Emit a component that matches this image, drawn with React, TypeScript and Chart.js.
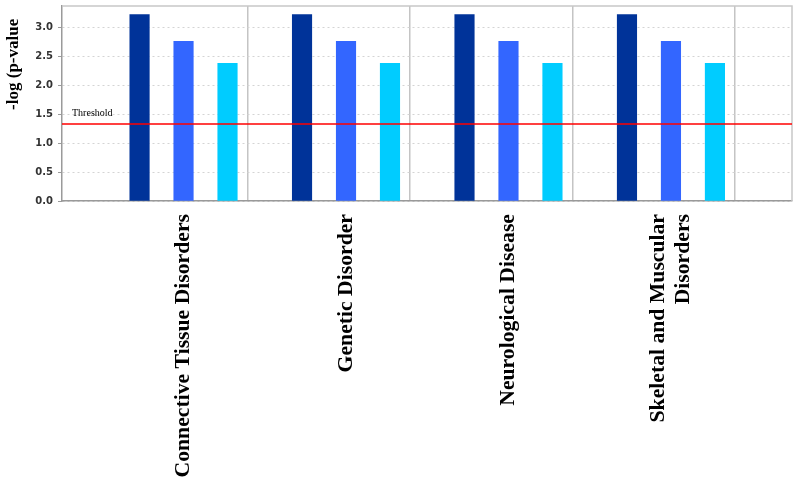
import React, { useEffect, useRef } from "react";
import { Chart, registerables } from "chart.js";

Chart.register(...registerables);

const CATEGORIES: (string | string[])[] = [
  "Connective Tissue Disorders",
  "Genetic Disorder",
  "Neurological Disease",
  ["Skeletal and Muscular", "Disorders"],
];
const SERIES_A = [3.22, 3.22, 3.22, 3.22];
const SERIES_B = [2.76, 2.76, 2.76, 2.76];
const SERIES_C = [2.38, 2.38, 2.38, 2.38];
const THRESHOLD = 1.33;
const Y_TICKS = [0, 0.5, 1.0, 1.5, 2.0, 2.5, 3.0];
const Y_MAX = 3.37;
const X_MIN = -0.748;
const X_MAX = 3.745;
const BOUNDARY_SHIFT = 0.395;
const LINE_NUDGE = 0.08; // per extra label line, in category units

const COLORS = ["#003399", "#3366ff", "#00ccff"];

const framePlugin = {
  id: "frame",
  beforeDatasetsDraw(chart: any) {
    const { ctx, chartArea } = chart;
    ctx.save();
    ctx.strokeStyle = "#c8c8c8";
    ctx.lineWidth = 1.5;
    ctx.beginPath();
    ctx.moveTo(chartArea.left, chartArea.top);
    ctx.lineTo(chartArea.right, chartArea.top);
    ctx.lineTo(chartArea.right, chartArea.bottom);
    ctx.stroke();
    ctx.restore();
  },
  afterDatasetsDraw(chart: any) {
    const { ctx, chartArea, scales } = chart;
    const y = scales.y.getPixelForValue(THRESHOLD);
    ctx.save();
    ctx.font = "10px 'Liberation Serif'";
    ctx.fillStyle = "#000";
    ctx.textBaseline = "middle";
    ctx.textAlign = "left";
    ctx.fillText("Threshold", chartArea.left + 10, y - 11);
    ctx.restore();
  },
};

export default function App() {
  const ref = useRef<HTMLCanvasElement | null>(null);
  useEffect(() => {
    if (!ref.current) return;
    const toXY = (arr: number[]) => arr.map((v, i) => ({ x: i, y: v }));
    const chart = new Chart(ref.current, {
      type: "bar",
      data: {
        datasets: [
          {
            type: "line",
            label: "Threshold",
            data: [
              { x: X_MIN, y: THRESHOLD },
              { x: X_MAX, y: THRESHOLD },
            ],
            borderColor: "#ff0000",
            borderWidth: 1.5,
            pointRadius: 0,
            order: -1,
          } as any,
          { label: "A", data: toXY(SERIES_A), backgroundColor: COLORS[0] },
          { label: "B", data: toXY(SERIES_B), backgroundColor: COLORS[1] },
          { label: "C", data: toXY(SERIES_C), backgroundColor: COLORS[2] },
        ],
      },
      options: {
        animation: false,
        responsive: false,
        layout: { padding: { left: 0, top: 6, right: 8, bottom: 0 } },
        plugins: { legend: { display: false }, tooltip: { enabled: false } },
        datasets: {
          bar: {
            barThickness: "flex",
            categoryPercentage: 0.812,
            barPercentage: 0.443,
            borderWidth: 0,
          },
        },
        scales: {
          x: {
            type: "linear",
            min: X_MIN,
            max: X_MAX,
            offset: false,
            afterBuildTicks: (scale: any) => {
              const ticks: any[] = [];
              CATEGORIES.forEach((c, i) => {
                const extra = Array.isArray(c) ? c.length - 1 : 0;
                ticks.push({ value: i - extra * LINE_NUDGE });
                ticks.push({ value: i + BOUNDARY_SHIFT });
              });
              scale.ticks = ticks;
            },
            afterFit: (scale: any) => {
              scale.height = 285;
              scale.paddingLeft = 0;
              scale.paddingRight = 0;
            },
            grid: {
              offset: false,
              drawTicks: false,
              color: (ctx: any) => (ctx.index % 2 === 0 ? "rgba(0,0,0,0)" : "#c4c4c4"),
              lineWidth: 1.5,
            },
            border: { color: "#9a9a9a", width: 1.5 },
            ticks: {
              autoSkip: false,
              minRotation: 90,
              maxRotation: 90,
              padding: 13,
              color: "#000",
              font: { family: "'Liberation Serif'", size: 21.7, weight: "bold", lineHeight: 1.15 },
              callback: (_value: any, index: number) =>
                index % 2 === 0 ? (CATEGORIES[index / 2] as any) : "",
            },
          },
          y: {
            min: 0,
            max: Y_MAX,
            afterBuildTicks: (scale: any) => {
              scale.ticks = Y_TICKS.map((v) => ({ value: v }));
            },
            afterFit: (scale: any) => {
              scale.width = 62;
              scale.paddingTop = 0;
              scale.paddingBottom = 0;
            },
            grid: {
              color: "#d4d4d4",
              tickColor: "#9a9a9a",
              tickLength: 4,
              lineWidth: 1,
            },
            border: { color: "#9a9a9a", width: 1.5, dash: [2, 3] },
            ticks: {
              padding: 5,
              color: "#333",
              font: { family: "'DejaVu Sans'", size: 10, weight: "bold" },
              callback: (value: any) => Number(value).toFixed(1),
            },
            title: {
              display: true,
              text: "-log (p-value   ",
              align: "end",
              color: "#000",
              padding: { top: 3, bottom: 0 },
              font: { family: "'Liberation Serif'", size: 17, weight: "bold" },
            },
          },
        },
      },
      plugins: [framePlugin],
    } as any);
    return () => chart.destroy();
  }, []);
  return (
    <div style={{ position: "absolute", left: 0, top: 0, width: 800, height: 486 }}>
      <canvas ref={ref} width={800} height={486} style={{ display: "block" }} />
    </div>
  );
}
